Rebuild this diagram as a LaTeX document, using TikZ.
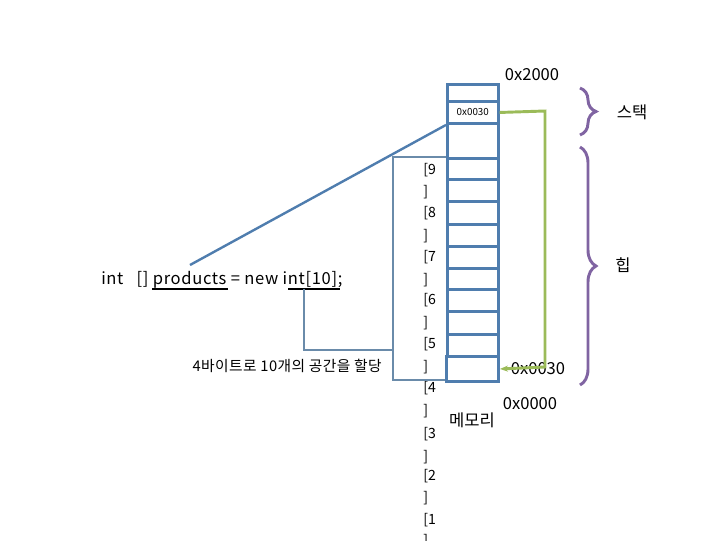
\documentclass[tikz,border=0pt]{standalone}
\usepackage{fontspec}
\setmainfont{Noto Sans CJK KR}[Scale=0.92]
\usetikzlibrary{decorations.pathreplacing,arrows.meta}
\definecolor{cellblue}{HTML}{4F7DAE}
\definecolor{thinblue}{HTML}{6A8BAA}
\definecolor{grn}{HTML}{9BBB59}
\definecolor{purp}{HTML}{8064A2}
\tikzset{cell/.style={draw=cellblue,line width=2.2pt},
 lbl/.style={font=\fontsize{11.5}{11.5}\selectfont,inner sep=0},
 big/.style={font=\fontsize{13.5}{13.5}\selectfont,inner sep=0},
 brace/.style={draw=purp,line width=2.2pt,decorate,decoration={brace,amplitude=12pt}}}
\begin{document}
\begin{tikzpicture}[x=0.75pt,y=-0.75pt]
\useasboundingbox (0,0) rectangle (720,540);
% cells
\foreach \a/\b [count=\i] in {83/100,100/122,122/157,157/178,178/200,200/223,223/245,245/267,267/288,288/310,310/333,333/355}
  \node[cell,minimum width=38pt,minimum height={(\b-\a)*0.75pt},inner sep=0,anchor=north west] (c\i) at (446,\a) {};
\node[cell,minimum width=39pt,minimum height=18.75pt,inner sep=0,anchor=north west] (c13) at (445,355) {};
\node[font=\fontsize{8}{8}\selectfont] at (c2) {0x0030};
\node[big] (top) at (532,75) {0x2000};
\node[big] (a30) at (538,369) {0x0030};
\node[big] (a00) at (530,404) {0x0000};
\node[big] (mem) at (472,420) {메모리};
% index labels
\foreach \t/\y in {[9/170,]/192,[8/213,]/236,[7/257,]/280,[6/300,]/323,[5/344,]/367,[4/388,]/411,[3/434,]/457,[2/476,]/498,[1/520}
  \node[lbl,anchor=west] at (423,\y) {\t};
\node[lbl,anchor=north west] at (423,534) {]};
% code
\node[big,anchor=west,font=\fontsize{13.5}{13.5}\selectfont\addfontfeature{LetterSpace=4}] (code) at (101,280) {int \ \ [] products = new int[10];};
\draw[line width=1.6pt] (152,289) -- (228,289);
\draw[line width=1.6pt] (288,289) -- (340,289);
\node[lbl,anchor=east,font=\fontsize{12}{12}\selectfont\addfontfeature{LetterSpace=3}] (note) at (382,366) {4바이트로 10개의 공간을 할당};
\coordinate (p1) at (304,289);
\coordinate (p3) at (393,380);
\draw[thinblue,line width=0.8pt] (p1) |- (380,350) -- (393,350);
\draw[thinblue,line width=0.8pt] (c4.north west) -| (p3) -- (p3 -| c13.west);
% pointer
\coordinate (ps) at (190,265);
\draw[cellblue,line width=1.8pt] (ps) -- (c2.south west);
\draw[grn,line width=2.2pt,-{Stealth[length=6pt]}] (c2.east) -- (545,111) -- (545,367) -- (c13.east);
% braces
\draw[brace] (580,88) -- (580,135);
\node[big] (st) at (632,112) {스택};
\draw[brace] (580,147) -- (580,385);
\node[big] (hp) at (623,265) {힙};
\end{tikzpicture}
\end{document}
